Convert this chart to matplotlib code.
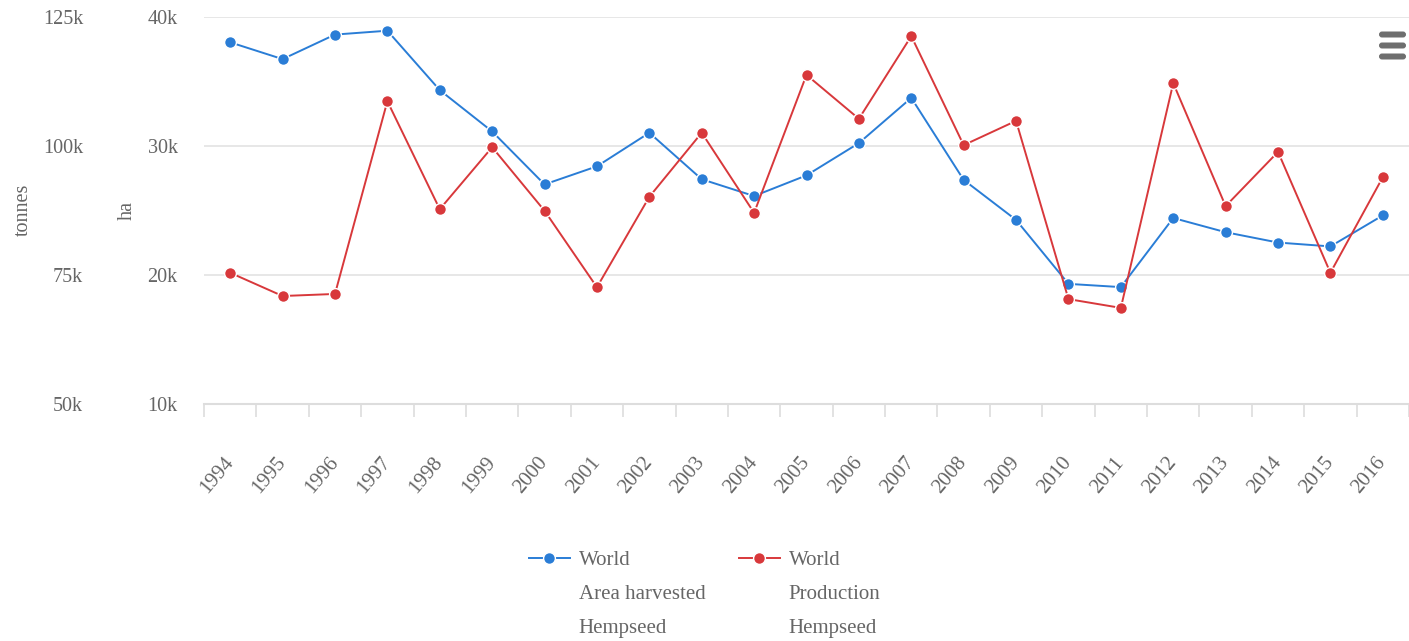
import matplotlib
matplotlib.use("Agg")
import matplotlib.pyplot as plt
from matplotlib.patches import FancyBboxPatch
from matplotlib.transforms import IdentityTransform
from matplotlib.ticker import FuncFormatter, FixedLocator
import numpy as np

years = [str(y) for y in range(1994, 2017)]
area_ha = [38.0, 36.7, 38.6, 38.9, 34.3, 31.1, 27.0, 28.4, 31.0, 27.4, 26.1, 27.7,
           30.2, 33.7, 27.35, 24.25, 19.3, 19.05, 24.4, 23.3, 22.5, 22.2, 24.6]
area_ha = [v * 1000 for v in area_ha]
production_t = [75.4, 70.9, 71.3, 108.6, 87.7, 99.7, 87.4, 72.6, 90.1, 102.5, 87.0, 113.7,
                105.2, 121.2, 100.1, 104.8, 70.3, 68.6, 112.1, 88.3, 98.8, 75.4, 93.9]
production_t = [v * 1000 for v in production_t]
ha_ticks = [10000, 20000, 30000, 40000]
t_ticks = [50000, 75000, 100000, 125000]
series_labels = ["World\nArea harvested\nHempseed", "World\nProduction\nHempseed"]

BLUE = "#2a7dd6"
RED = "#d8383b"
TXT = "#666666"
FONT = ["Liberation Serif", "DejaVu Serif"]
plt.rcParams["font.family"] = FONT

fig = plt.figure(figsize=(14.09, 6.41), dpi=100)
ax = fig.add_axes([204 / 1409, 1 - 404 / 641, 1 - 204 / 1409, (404 - 16.5) / 641])
ax2 = ax.twinx()

x = np.arange(len(years))
kfmt = FuncFormatter(lambda v, p: f"{int(v / 1000)}k")

ax.plot(x, area_ha, color=BLUE, lw=1.4, marker="o", ms=8.5, mfc=BLUE,
        mec="white", mew=1.0, zorder=3, label=series_labels[0])
ax2.plot(x, production_t, color=RED, lw=1.4, marker="o", ms=8.5, mfc=RED,
         mec="white", mew=1.0, zorder=3, label=series_labels[1])

ax.set_xlim(-0.5, len(years) - 0.5)
ax.set_ylim(ha_ticks[0], ha_ticks[-1])
ax2.set_ylim(t_ticks[0], t_ticks[-1])
ax.set_yticks(ha_ticks)
ax2.set_yticks(t_ticks)
ax.yaxis.set_major_formatter(kfmt)
ax2.yaxis.set_major_formatter(kfmt)

ax.grid(axis="y", color="#e3e3e3", lw=1.2)
ax.set_axisbelow(True)
for a in (ax, ax2):
    for s in ("top", "right", "left"):
        a.spines[s].set_visible(False)
ax2.spines["bottom"].set_visible(False)
ax.spines["bottom"].set_color("#dddddd")
ax.spines["bottom"].set_linewidth(1.5)

# y axes both on left
ax.tick_params(axis="y", length=0, pad=19, labelsize=14.5, labelcolor=TXT)
ax2.yaxis.set_ticks_position("left")
ax2.yaxis.set_label_position("left")
ax2.spines["left"].set_position(("outward", 68))
ax2.spines["left"].set_visible(False)
ax2.tick_params(axis="y", length=0, pad=19, labelsize=14.5, labelcolor=TXT)
ax.set_ylabel("ha", fontsize=14.5, color=TXT, labelpad=7.5)
ax2.set_ylabel("tonnes", fontsize=14.5, color=TXT, labelpad=7)

# x axis
ax.set_xticks(x)
ax.set_xticklabels(years)
ax.xaxis.set_minor_locator(FixedLocator(np.arange(-0.5, len(years), 1.0)))
ax.tick_params(axis="x", which="major", length=0, pad=40, labelsize=15, labelcolor=TXT)
ax.tick_params(axis="x", which="minor", length=9, width=1.2, color="#dddddd")
for lbl in ax.get_xticklabels():
    lbl.set_rotation(50)
    lbl.set_ha("right")
    lbl.set_va("center")
    lbl.set_rotation_mode("anchor")

h1, l1 = ax.get_legend_handles_labels()
h2, l2 = ax2.get_legend_handles_labels()
leg = fig.legend(h1 + h2, l1 + l2, loc="upper center", bbox_to_anchor=(0.5, 0.163),
                 ncol=2, frameon=False, fontsize=15, labelcolor=TXT,
                 handlelength=2.0, columnspacing=1.6, handletextpad=0.4,
                 borderpad=0.2)
for t in leg.get_texts():
    t.set_linespacing(2.05)
for col in leg._legend_handle_box.get_children():
    for item in col.get_children():
        item.align = "top"

# export menu icon
for yy in (604, 593, 582):
    fig.add_artist(FancyBboxPatch((1379, yy - 0.5), 27, 6,
                                  boxstyle="round,pad=0,rounding_size=3",
                                  transform=IdentityTransform(), color="#6e6e6e", lw=0))

fig.savefig("out.png", dpi=100)
